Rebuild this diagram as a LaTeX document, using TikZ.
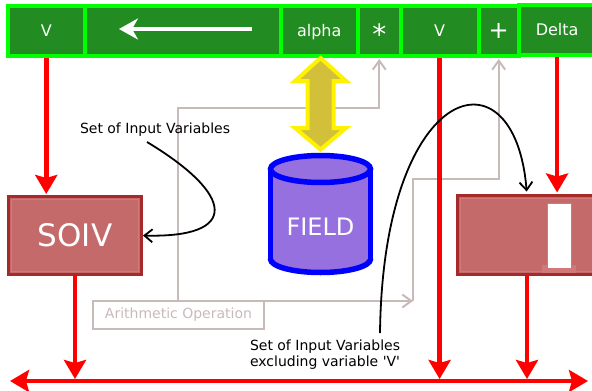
\documentclass[tikz,border=0pt]{standalone}
\usepackage{fontspec}
\setmainfont{DejaVu Sans}[Ligatures=TeXOff]
\usetikzlibrary{arrows.meta}
\definecolor{cellfill}{RGB}{34,139,34}
\definecolor{cellline}{RGB}{0,255,0}
\definecolor{boxfill}{RGB}{197,106,106}
\definecolor{boxline}{RGB}{166,42,42}
\definecolor{boxinner}{RGB}{208,121,121}
\definecolor{opgray}{RGB}{201,186,186}
\definecolor{goldfill}{RGB}{210,192,58}
\definecolor{cylfill}{RGB}{150,112,222}
\begin{document}
\begin{tikzpicture}[x=1pt,y=-1pt,
  cell/.style={draw=cellline, fill=cellfill, line width=4pt, minimum height=50pt,
    inner sep=0pt, outer sep=0pt, anchor=north west, text=white},
  celltext/.style={font=\fontsize{16}{18}\selectfont, text height=11.4pt, text depth=0pt},
  redbox/.style={draw=boxline, fill=boxfill, line width=3pt, inner sep=0pt, outer sep=0pt},
  innerline/.style={draw=boxinner, line width=1.2pt},
  rline/.style={draw=red, line width=4.5pt, -{Stealth[length=19pt,width=22pt,inset=3pt]}},
  gline/.style={draw=opgray, line width=2pt, -{Straight Barb[length=9pt,width=13pt]}},
  bline/.style={draw=black, line width=1.8pt, -{Straight Barb[length=8pt,width=13pt]}},
  lbl/.style={font=\fontsize{14}{16}\selectfont, inner sep=0pt, outer sep=0pt},
  opbox/.style={draw=opgray, line width=2pt, inner sep=0pt, outer sep=0pt, text=opgray,
    font=\fontsize{14}{16}\selectfont, anchor=north west}
]
\useasboundingbox (0,0) rectangle (592,391);
\clip (0,0) rectangle (592,391);

% coordinates
\coordinate (busL) at (10,381);
\coordinate (busR) at (588,381);
\coordinate (g1) at (178,108);
\coordinate (g3) at (413,301);
\coordinate (g4) at (413,179);
\coordinate (c1) at (147,142);
\coordinate (c2) at (380,333);
\coordinate (arrS) at (252,29);
\coordinate (arrE) at (119,29);

% boxes (SOIV and right box)
\node[redbox, minimum width=133pt, minimum height=78pt, text=white,
      font=\fontsize{31}{33}\selectfont] (soiv) at (75,235.5) {SOIV};
\draw[innerline] ([shift={(3.2,3.2)}]soiv.north west) rectangle ([shift={(-3.2,-3.2)}]soiv.south east);
\node[redbox, minimum width=139pt, minimum height=79pt] (rbox) at (527,235) {};
\draw[innerline] ([shift={(3.2,3.2)}]rbox.north west) rectangle ([shift={(-3.2,-3.2)}]rbox.south east);
\fill[boxinner] (542,265) rectangle (576,273);
\draw[draw=boxinner, fill=white, line width=1pt] (547,203) rectangle (571,268);

% arithmetic operation box
\node[opbox, minimum width=171pt, minimum height=28pt] (arith) at (93,301) {Arithmetic Operation};

% cells of the top bar (positions used by connectors)
\path (8,6) node[cell,celltext,minimum width=76.5pt] (v1) {V};
\path (84.5,6) node[cell,minimum width=196pt] (arr) {};
\path (280.5,6) node[cell,celltext,minimum width=77.5pt] (alpha) {alpha};
\path (358,6) node[cell,font=\fontsize{28}{30}\selectfont,text height=26pt,text depth=0pt,minimum width=42.5pt] (star) {*};
\path (400.5,6) node[cell,celltext,minimum width=78.2pt] (v2) {V};
\path (478.7,6) node[cell,font=\fontsize{24}{26}\selectfont,minimum width=40pt] (plus) {+};
\path (518.7,5) node[cell,celltext,minimum width=76.8pt] (delta) {Delta};

% gray connectors
\draw[gline, shorten >=3pt] (arith.north -| g1) -- (g1) -| (star.south);
\draw[gline] (arith.north east) -- (g3);
\draw[gline, shorten >=3pt] (g3) -- (g4) -| (plus.south);

% red connectors
\draw[rline, shorten >=2.5pt] (v1.south) -- (v1.south |- soiv.north);
\draw[rline, shorten >=2pt] (soiv.south) -- (soiv.south |- busL);
\draw[rline, shorten >=2pt] (v2.south) -- (v2.south |- busL);
\draw[rline, shorten >=3pt] (delta.south) -- (delta.south |- rbox.north);
\draw[rline, shorten >=2pt] (rbox.south) -- (rbox.south |- busL);
\draw[draw=red, line width=4.5pt, {Stealth[length=19pt,width=22pt,inset=3pt]}-{Stealth[length=19pt,width=22pt,inset=3pt]}] (busL) -- (busR);

% redraw cells on top of line ends
\path (8,6) node[cell,celltext,minimum width=76.5pt] {V};
\path (84.5,6) node[cell,minimum width=196pt] {};
\path (280.5,6) node[cell,celltext,minimum width=77.5pt] {alpha};
\path (358,6) node[cell,font=\fontsize{28}{30}\selectfont,text height=26pt,text depth=0pt,minimum width=42.5pt] {*};
\path (400.5,6) node[cell,celltext,minimum width=78.2pt] {V};
\path (478.7,6) node[cell,font=\fontsize{24}{26}\selectfont,minimum width=40pt] {+};
\path (518.7,5) node[cell,celltext,minimum width=76.8pt] {Delta};
\draw[draw=white, line width=4.3pt, -{Stealth[length=19pt,width=21pt,inset=6pt]}] (arrS) -- (arrE);

% cylinder FIELD
\fill[cylfill] (270.5,169) rectangle (370.5,259);
\fill[cylfill] (320.5,259) ellipse [x radius=50, y radius=13.5];
\begin{scope}
  \clip (260,259) rectangle (380,290);
  \draw[blue, line width=5.5pt] (320.5,259) ellipse [x radius=50, y radius=13.5];
\end{scope}
\draw[blue, line width=5.5pt] (270.5,169) -- (270.5,259) (370.5,169) -- (370.5,259);
\draw[blue, line width=5.5pt, fill=cylfill] (320.5,169) ellipse [x radius=50, y radius=13.5];
\node[font=\fontsize{24}{26}\selectfont, text=white, inner sep=0pt] (field) at (320.5,227) {FIELD};

% yellow double arrow
\draw[yellow, line width=4pt, fill=goldfill, line join=miter]
  (320.5,58) -- (346,81) -- (333.5,81) -- (333.5,128) -- (346,128) -- (320.5,149.5)
  -- (295,128) -- (307.5,128) -- (307.5,81) -- (295,81) -- cycle;

% labels
\node[lbl, anchor=base west] (lab1) at (80,133.5) {Set of Input Variables};
\node[lbl, anchor=north west, align=left] (lab2) at (250,340) {Set of Input Variables\\excluding variable 'V'};

% black curved connectors
\draw[bline, shorten >=1.5pt] (c1) .. controls (235,195) and (240,238) .. (soiv.east);
\draw[bline, shorten >=4pt] (c2) .. controls (383,80) and (515,45) .. (rbox.north);
\end{tikzpicture}
\end{document}
